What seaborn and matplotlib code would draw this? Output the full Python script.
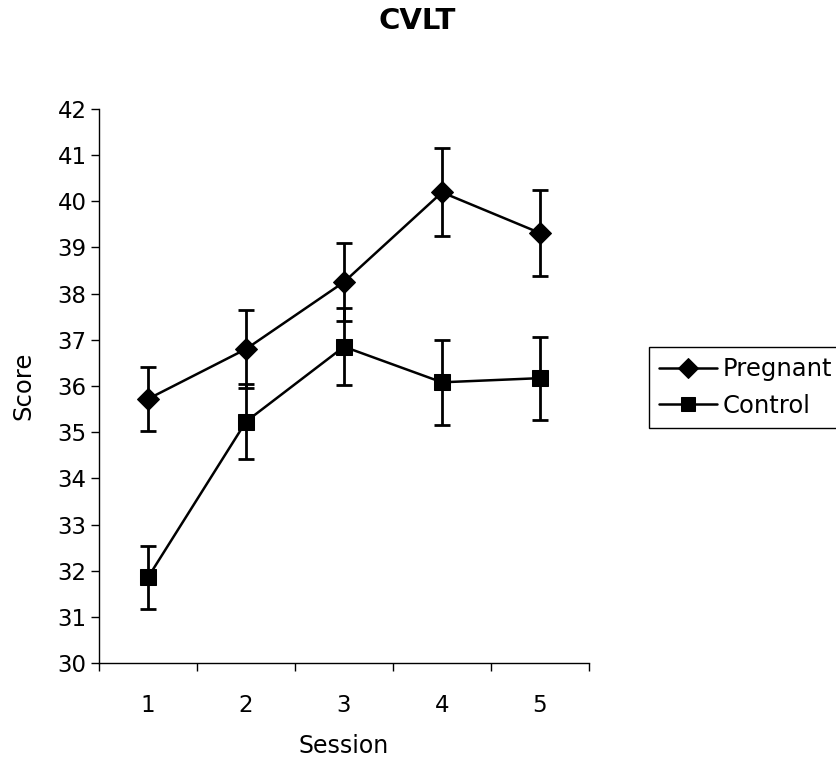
import matplotlib
matplotlib.use("Agg")
import matplotlib.pyplot as plt
import seaborn as sns
import pandas as pd
from matplotlib.ticker import FixedLocator

sessions = [1, 2, 3, 4, 5]
pregnant_mean = [35.72, 36.80, 38.25, 40.19, 39.31]
pregnant_se = [0.69, 0.85, 0.85, 0.95, 0.92]
control_mean = [31.86, 35.23, 36.85, 36.08, 36.17]
control_se = [0.68, 0.81, 0.83, 0.92, 0.90]
groups = ["Pregnant", "Control"]

sns.set_theme(style="white")
plt.rcParams["font.family"] = ["DejaVu Sans"]
plt.rcParams["text.color"] = "black"
plt.rcParams["axes.labelcolor"] = "black"

df = pd.DataFrame({
    "Session": sessions * 2,
    "Score": pregnant_mean + control_mean,
    "SE": pregnant_se + control_se,
    "Group": [groups[0]] * 5 + [groups[1]] * 5,
})

fig = plt.figure(figsize=(8.37, 7.6), dpi=100)
ax = fig.add_axes([0.1183, 0.1272, 0.5854, 0.7298])

for g in groups:
    sub = df[df["Group"] == g]
    ax.errorbar(sub["Session"], sub["Score"], yerr=sub["SE"], fmt="none",
                ecolor="black", elinewidth=2.0, capsize=6, capthick=2.0, zorder=2)

sns.lineplot(data=df, x="Session", y="Score", hue="Group", style="Group",
             markers={"Pregnant": "D", "Control": "s"}, dashes=False,
             palette={"Pregnant": "black", "Control": "black"},
             linewidth=1.8, markersize=11, markeredgecolor="black",
             ax=ax, zorder=3)

ax.set_xlim(0.5, 5.5)
ax.set_ylim(30, 42)
ax.set_yticks(range(30, 43))
ax.set_xticks(sessions)
ax.xaxis.set_minor_locator(FixedLocator([0.5, 1.5, 2.5, 3.5, 4.5, 5.5]))
ax.tick_params(axis="x", which="major", bottom=True, length=0, labelsize=16.5,
               pad=22, labelcolor="black")
ax.tick_params(axis="x", which="minor", bottom=True, length=6, width=1,
               color="black", direction="out")
ax.tick_params(axis="y", which="major", left=True, length=6, width=1, color="black",
               direction="out", labelsize=16.5, pad=3, labelcolor="black")

for side in ["top", "right"]:
    ax.spines[side].set_visible(False)
for side in ["left", "bottom"]:
    ax.spines[side].set_color("black")
    ax.spines[side].set_linewidth(1.0)

ax.set_xlabel("Session", fontsize=17, labelpad=12, color="black")
ax.set_ylabel("Score", fontsize=17.5, labelpad=16, color="black")

fig.text(0.499, 0.972, "CVLT", ha="center", va="center",
         fontsize=21, fontweight="bold", color="black")

handles, labels = ax.get_legend_handles_labels()
for h in handles:
    h.set_markersize(10)
leg = ax.legend(handles, labels, loc="upper left", bbox_to_anchor=(1.122, 0.570),
                frameon=True, fancybox=False, framealpha=1, edgecolor="black",
                fontsize=17.5, handlelength=2.4, handletextpad=0.2,
                borderpad=0.42, labelspacing=0.5, borderaxespad=0)
leg.get_frame().set_linewidth(1.0)
for t in leg.get_texts():
    t.set_color("black")

fig.savefig("out.png", dpi=100)
